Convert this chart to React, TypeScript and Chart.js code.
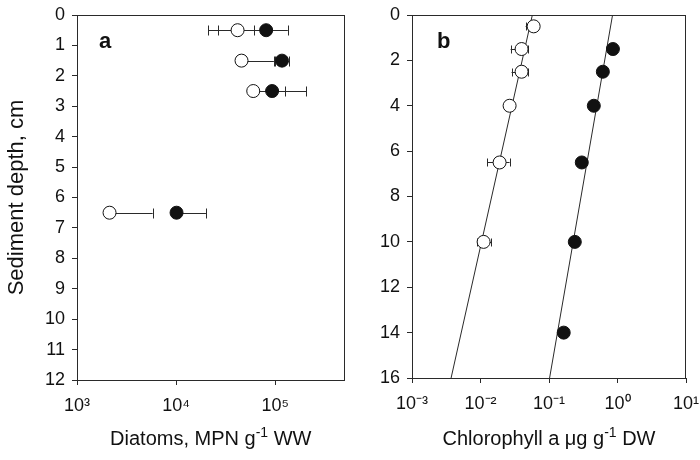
import React, { useEffect, useRef } from 'react';
import { Chart, registerables } from 'chart.js';

Chart.register(...registerables);

const FONT = '"Liberation Sans", Arial, Helvetica, sans-serif';
const INK = '#111111';
const LINE = '#2a2a2a';

// ---------- Panel a: diatoms ----------
const depthA = [0.5, 1.5, 2.5, 6.5];
const openA = [4.17e4, 4.57e4, 6.0e4, 2.13e3];
const openALo = [2.1e4, 4.57e4, 6.0e4, 2.13e3];
const openAHi = [6.15e4, 9.7e4, 1.25e5, 5.8e3];
const filledA = [8.1e4, 1.17e5, 9.3e4, 1.01e4];
const filledALo = [2.64e4, 1.0e5, 9.3e4, 1.01e4];
const filledAHi = [1.34e5, 1.37e5, 2.06e5, 2.0e4];
const xTickValuesA = [1e3, 1e4, 1e5];
const xTickLabelsA = ['10³', '10⁴', '10⁵'];
const xTitleA = [
  { text: 'Diatoms, MPN g', sup: false },
  { text: '-1', sup: true },
  { text: ' WW', sup: false },
];
const yTitleA = 'Sediment depth, cm';

// ---------- Panel b: chlorophyll a ----------
const openDepthB = [0.5, 1.5, 2.5, 4, 6.5, 10];
const openB = [0.0597, 0.0398, 0.0398, 0.0266, 0.019, 0.0111];
const openBLo = [0.0456, 0.0275, 0.0284, 0.0266, 0.0125, 0.009];
const openBHi = [0.0597, 0.0499, 0.0499, 0.0266, 0.0266, 0.0144];
const filledDepthB = [1.5, 2.5, 4, 6.5, 10, 14];
const filledB = [0.857, 0.611, 0.451, 0.301, 0.238, 0.164];
const fitDepthB = [0, 16];
const openFitB = [0.0571, 0.00372];
const filledFitB = [0.847, 0.102];
const xTickValuesB = [1e-3, 1e-2, 1e-1, 1e0, 1e1];
const xTickLabelsB = ['10⁻³', '10⁻²', '10⁻¹', '10⁰', '10¹'];
const xTitleB = [
  { text: 'Chlorophyll a μg g', sup: false },
  { text: '-1', sup: true },
  { text: ' DW', sup: false },
];

const pts = (xs: number[], ys: number[]) => xs.map((x, i) => ({ x, y: ys[i] }));

const errorBarPlugin = {
  id: 'errorBars',
  beforeDatasetsDraw(chart: any) {
    const { ctx, scales } = chart;
    const xs = scales.x;
    const ys = scales.y;
    ctx.save();
    ctx.strokeStyle = LINE;
    ctx.lineWidth = 1;
    chart.data.datasets.forEach((ds: any) => {
      if (!ds.errLo) return;
      const cap = ds.capHalf || 5;
      ds.data.forEach((p: any, j: number) => {
        const y = Math.round(ys.getPixelForValue(p.y)) + 0.5;
        const xc = xs.getPixelForValue(p.x);
        const x1 = xs.getPixelForValue(ds.errLo[j]);
        const x2 = xs.getPixelForValue(ds.errHi[j]);
        ctx.beginPath();
        ctx.moveTo(x1, y);
        ctx.lineTo(x2, y);
        if (Math.abs(x1 - xc) > 0.5) {
          ctx.moveTo(Math.round(x1) + 0.5, y - cap);
          ctx.lineTo(Math.round(x1) + 0.5, y + cap);
        }
        if (Math.abs(x2 - xc) > 0.5) {
          ctx.moveTo(Math.round(x2) + 0.5, y - cap);
          ctx.lineTo(Math.round(x2) + 0.5, y + cap);
        }
        ctx.stroke();
      });
    });
    ctx.restore();
  },
};

const framePlugin = {
  id: 'frame',
  afterDraw(chart: any) {
    const { ctx, chartArea } = chart;
    const o = chart.options.plugins.frame || {};
    ctx.save();
    ctx.strokeStyle = LINE;
    ctx.lineWidth = 1;
    ctx.strokeRect(
      Math.round(chartArea.left) + 0.5,
      Math.round(chartArea.top) + 0.5,
      Math.round(chartArea.right - chartArea.left) - 1,
      Math.round(chartArea.bottom - chartArea.top)
    );
    ctx.fillStyle = INK;
    if (o.letter) {
      ctx.font = `bold 22px ${FONT}`;
      ctx.textBaseline = 'alphabetic';
      ctx.textAlign = 'left';
      ctx.fillText(o.letter, chartArea.left + o.letterDx, 48);
    }
    // x-axis title with a true superscript
    if (o.xTitle) {
      const mainFont = `20px ${FONT}`;
      const supFont = `14px ${FONT}`;
      let total = 0;
      const widths = o.xTitle.map((seg: any) => {
        ctx.font = seg.sup ? supFont : mainFont;
        const w = ctx.measureText(seg.text).width;
        total += w;
        return w;
      });
      let x = (chartArea.left + chartArea.right) / 2 - total / 2;
      const base = 445;
      ctx.textAlign = 'left';
      ctx.textBaseline = 'alphabetic';
      o.xTitle.forEach((seg: any, i: number) => {
        ctx.font = seg.sup ? supFont : mainFont;
        ctx.fillText(seg.text, x, seg.sup ? base - 8 : base);
        x += widths[i];
      });
    }
    ctx.restore();
  },
};

function buildOptions(p: any) {
  return {
    responsive: false,
    animation: false,
    devicePixelRatio: 1,
    layout: { padding: { left: 0, right: p.padRight, top: 15, bottom: 0 } },
    plugins: {
      legend: { display: false },
      tooltip: { enabled: false },
      frame: { letter: p.letter, letterDx: p.letterDx, xTitle: p.xTitle },
    },
    scales: {
      x: {
        type: 'logarithmic',
        position: 'bottom',
        min: p.xMin,
        max: p.xMax,
        afterBuildTicks: (s: any) => {
          s.ticks = p.xTicks.map((v: number) => ({ value: v }));
        },
        afterFit: (s: any) => {
          s.height = p.xHeight;
          s.paddingLeft = 0;
          s.paddingRight = 0;
        },
        ticks: {
          autoSkip: false,
          maxRotation: 0,
          minRotation: 0,
          padding: 10,
          color: INK,
          font: { family: FONT, size: 18 },
          callback: (_v: any, i: number) => p.xLabels[i],
        },
        grid: { drawOnChartArea: false, drawTicks: true, tickLength: 5, color: LINE },
        border: { display: true, color: LINE, width: 1 },
        title: { display: false },
      },
      y: {
        type: 'linear',
        reverse: true,
        min: 0,
        max: p.yMax,
        afterFit: (s: any) => {
          s.width = p.yWidth;
          s.paddingTop = 0;
          s.paddingBottom = 0;
        },
        ticks: {
          stepSize: p.yStep,
          autoSkip: false,
          padding: 7,
          color: INK,
          font: { family: FONT, size: 18 },
        },
        grid: { drawOnChartArea: false, drawTicks: true, tickLength: 5, color: LINE },
        border: { display: true, color: LINE, width: 1 },
        title: {
          display: !!p.yTitle,
          text: p.yTitle || '',
          color: INK,
          font: { family: FONT, size: 22 },
          padding: { top: 4, bottom: 0 },
        },
      },
    },
  };
}

const openStyle = {
  backgroundColor: '#ffffff',
  borderColor: INK,
  borderWidth: 1,
  pointRadius: 6.5,
  pointBackgroundColor: '#ffffff',
  pointBorderColor: INK,
  pointBorderWidth: 1,
  showLine: false,
};
const filledStyle = {
  backgroundColor: INK,
  borderColor: INK,
  borderWidth: 1,
  pointRadius: 6.5,
  pointBackgroundColor: INK,
  pointBorderColor: INK,
  showLine: false,
};
const fitStyle = {
  borderColor: LINE,
  borderWidth: 1,
  pointRadius: 0,
  showLine: true,
  fill: false,
};

export default function App() {
  const refA = useRef<HTMLCanvasElement>(null);
  const refB = useRef<HTMLCanvasElement>(null);

  useEffect(() => {
    const chartA = new Chart(refA.current as HTMLCanvasElement, {
      type: 'scatter',
      data: {
        datasets: [
          { ...filledStyle, data: pts(filledA, depthA), errLo: filledALo, errHi: filledAHi, capHalf: 5 } as any,
          { ...openStyle, data: pts(openA, depthA), errLo: openALo, errHi: openAHi, capHalf: 5 } as any,
        ],
      },
      options: buildOptions({
        xMin: 1e3,
        xMax: 5e5,
        xTicks: xTickValuesA,
        xLabels: xTickLabelsA,
        xTitle: xTitleA,
        yTitle: yTitleA,
        yMax: 12,
        yStep: 1,
        yWidth: 77,
        xHeight: 80,
        padRight: 3,
        letter: 'a',
        letterDx: 22,
      }) as any,
      plugins: [errorBarPlugin, framePlugin],
    });

    const chartB = new Chart(refB.current as HTMLCanvasElement, {
      type: 'scatter',
      data: {
        datasets: [
          { ...filledStyle, data: pts(filledB, filledDepthB) } as any,
          { ...openStyle, data: pts(openB, openDepthB), errLo: openBLo, errHi: openBHi, capHalf: 4 } as any,
          { ...fitStyle, data: pts(openFitB, fitDepthB) } as any,
          { ...fitStyle, data: pts(filledFitB, fitDepthB) } as any,
        ],
      },
      options: buildOptions({
        xMin: 1e-3,
        xMax: 10,
        xTicks: xTickValuesB,
        xLabels: xTickLabelsB,
        xTitle: xTitleB,
        yTitle: '',
        yMax: 16,
        yStep: 2,
        yWidth: 60,
        xHeight: 82,
        padRight: 14,
        letter: 'b',
        letterDx: 25,
      }) as any,
      plugins: [errorBarPlugin, framePlugin],
    });

    return () => {
      chartA.destroy();
      chartB.destroy();
    };
  }, []);

  return (
    <div style={{ position: 'absolute', left: 0, top: 0, width: 700, height: 460, background: '#fff' }}>
      <canvas ref={refA} width={352} height={460} style={{ position: 'absolute', left: 0, top: 0 }} />
      <canvas ref={refB} width={348} height={460} style={{ position: 'absolute', left: 352, top: 0 }} />
    </div>
  );
}
